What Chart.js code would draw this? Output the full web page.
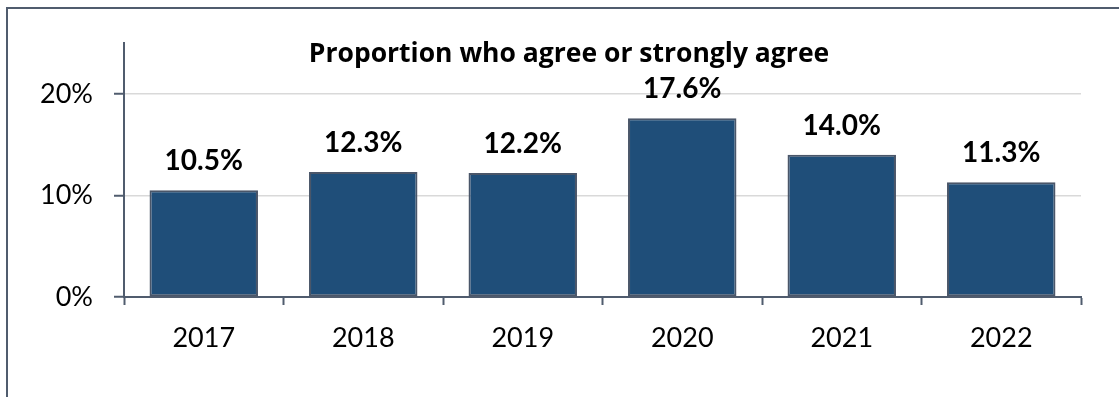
<!DOCTYPE html>
<html>
<head>
<meta charset="utf-8">
<script src="https://cdn.jsdelivr.net/npm/chart.js@4"></script>
<style>
  html, body { margin: 0; padding: 0; background: #fff; overflow: hidden; }
  #frame {
    position: absolute; left: 6px; top: 7px; width: 1200px; height: 500px;
    border-left: 2px solid #505c6e; border-top: 2px solid #505c6e;
  }
  #wrap { position: absolute; left: 0; top: 0; width: 1119px; height: 397px; }
</style>
</head>
<body>
<div id="frame"></div>
<div id="wrap"><canvas id="chartAgree"></canvas></div>
<script>
const years = ['2017', '2018', '2019', '2020', '2021', '2022'];
const agreeShare = [10.5, 12.3, 12.2, 17.6, 14.0, 11.3];
const yTicks = [0, 10, 20];
const chartTitle = 'Proportion who agree or strongly agree';

const FONT = 'Lato, "Open Sans", sans-serif';
const AXIS = '#505c6e';

// labels above bars + title inside the plot
const barLabels = {
  id: 'barLabels',
  afterDatasetsDraw(chart) {
    const ctx = chart.ctx;
    const meta = chart.getDatasetMeta(0);
    ctx.save();
    ctx.fillStyle = '#000';
    ctx.font = 'bold 28px ' + FONT;
    ctx.textAlign = 'center';
    ctx.textBaseline = 'alphabetic';
    meta.data.forEach((bar, i) => {
      ctx.fillText(agreeShare[i].toFixed(1) + '%', bar.x, bar.y - 20);
    });
    ctx.font = 'bold 26.5px "Open Sans", Lato, sans-serif';
    ctx.fillText(chartTitle, 569, 62);
    ctx.restore();
  }
};

new Chart(document.getElementById('chartAgree'), {
  type: 'bar',
  data: {
    labels: years,
    datasets: [{
      data: agreeShare,
      backgroundColor: '#1F4E79',
      borderColor: '#4a5669',
      borderWidth: 2,
      borderSkipped: false,
      categoryPercentage: 1,
      barPercentage: 0.68
    }]
  },
  options: {
    responsive: true,
    maintainAspectRatio: false,
    animation: false,
    layout: { padding: { left: 0, top: 43, right: 38, bottom: 0 } },
    plugins: { legend: { display: false }, tooltip: { enabled: false }, title: { display: false } },
    scales: {
      x: {
        grid: { offset: true, drawOnChartArea: false, drawTicks: true, tickLength: 8, tickColor: AXIS, tickWidth: 2 },
        border: { color: AXIS, width: 2 },
        ticks: { color: '#000', font: { family: FONT, size: 27 }, padding: 17 },
        afterFit(scale) { scale.height = 100; }
      },
      y: {
        min: 0,
        max: 25,
        afterBuildTicks(scale) { scale.ticks = yTicks.map(v => ({ value: v })); },
        grid: { color: '#d9d9d9', lineWidth: 1.5, tickLength: 10, tickColor: AXIS, tickWidth: 2 },
        border: { color: AXIS, width: 2 },
        ticks: { color: '#000', font: { family: FONT, size: 27 }, padding: 21, callback: v => v + '%' },
        afterFit(scale) { scale.width = 124; }
      }
    }
  },
  plugins: [barLabels]
});
</script>
</body>
</html>
